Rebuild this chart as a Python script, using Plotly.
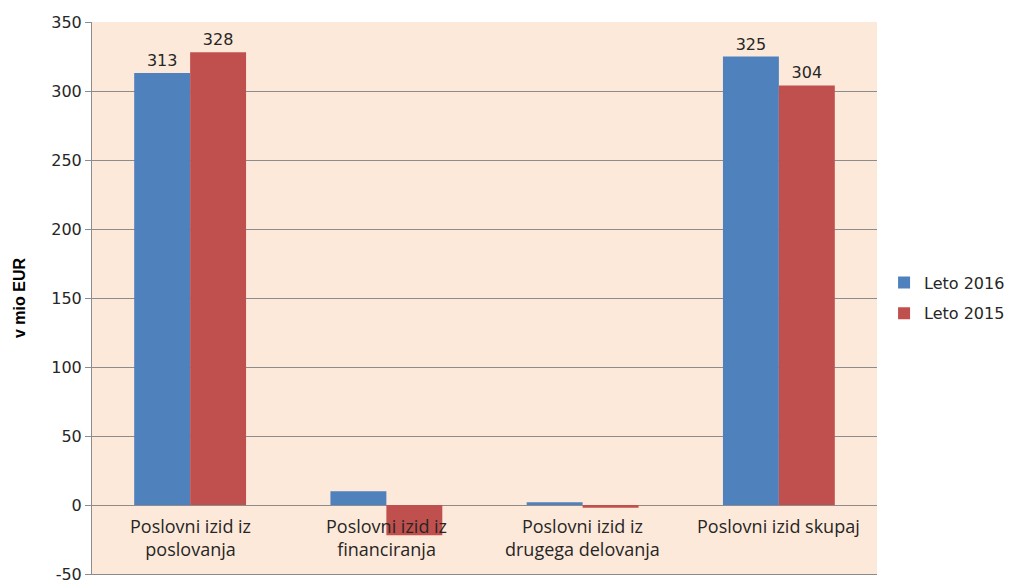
import plotly.graph_objects as go

categories = ["Poslovni izid iz<br>poslovanja", "Poslovni izid iz<br>financiranja",
              "Poslovni izid iz<br>drugega delovanja", "Poslovni izid skupaj"]
series_names = ["Leto 2016", "Leto 2015"]
values_2016 = [313, 10, 2, 325]
values_2015 = [328, -22, -2, 304]
y_ticks = [-50, 0, 50, 100, 150, 200, 250, 300, 350]
y_tick_labels = [str(v) for v in y_ticks]
y_title = "v mio EUR"

colors = ["#4F81BD", "#C0504D"]
x_idx = list(range(len(categories)))

def labels(vals):
    return [str(v) if abs(v) >= 50 else "" for v in vals]

fig = go.Figure()
for k, (name, vals, col) in enumerate(zip(series_names, [values_2016, values_2015], colors)):
    fig.add_trace(go.Bar(
        x=x_idx, y=vals, name=name, marker_color=col,
        marker_line_width=0, legendgroup=f"g{k}",
        text=labels(vals), textposition="outside", cliponaxis=False,
        textfont=dict(family="DejaVu Sans", size=16, color="#262626"),
    ))

for i, c in enumerate(categories):
    fig.add_annotation(x=i, y=0, xref="x", yref="y", text=c, showarrow=False,
                       yanchor="top", yshift=-7,
                       font=dict(family="Open Sans", size=18, color="#262626"))

fig.add_annotation(x=-0.093, y=0.5, xref="paper", yref="paper", text=f"<b>{y_title}</b>",
                   textangle=-90, showarrow=False, xanchor="center", yanchor="middle",
                   font=dict(family="Liberation Sans Narrow, Liberation Sans", size=16, color="black"))

fig.update_layout(
    width=1006, height=572,
    margin=dict(l=84, r=137, t=14, b=6, autoexpand=False),
    paper_bgcolor="white", plot_bgcolor="#FDE9D9",
    barmode="group", bargap=0.43, bargroupgap=0,
    showlegend=True,
    legend=dict(x=1.009, y=0.5, xanchor="left", yanchor="middle",
                traceorder="grouped", tracegroupgap=7,
                font=dict(family="DejaVu Sans", size=16, color="#262626"),
                itemwidth=30, bgcolor="rgba(0,0,0,0)"),
    xaxis=dict(range=[-0.5, 3.5], showticklabels=False, showgrid=False,
               zeroline=False, showline=True, linecolor="#8C8C8C", linewidth=1,
               ticks="", automargin=False),
    yaxis=dict(range=[-50, 350], tickvals=y_ticks, ticktext=y_tick_labels,
               showgrid=True, automargin=False, ticklabeloverflow="allow",
               gridcolor="#8C8C8C", gridwidth=1, zeroline=True,
               zerolinecolor="#8C8C8C", zerolinewidth=1,
               showline=True, linecolor="#8C8C8C", linewidth=1,
               ticks="outside", ticklen=6, tickcolor="#8C8C8C",
               tickfont=dict(family="DejaVu Sans", size=16, color="#262626")),
)

fig.write_html("out.html")
